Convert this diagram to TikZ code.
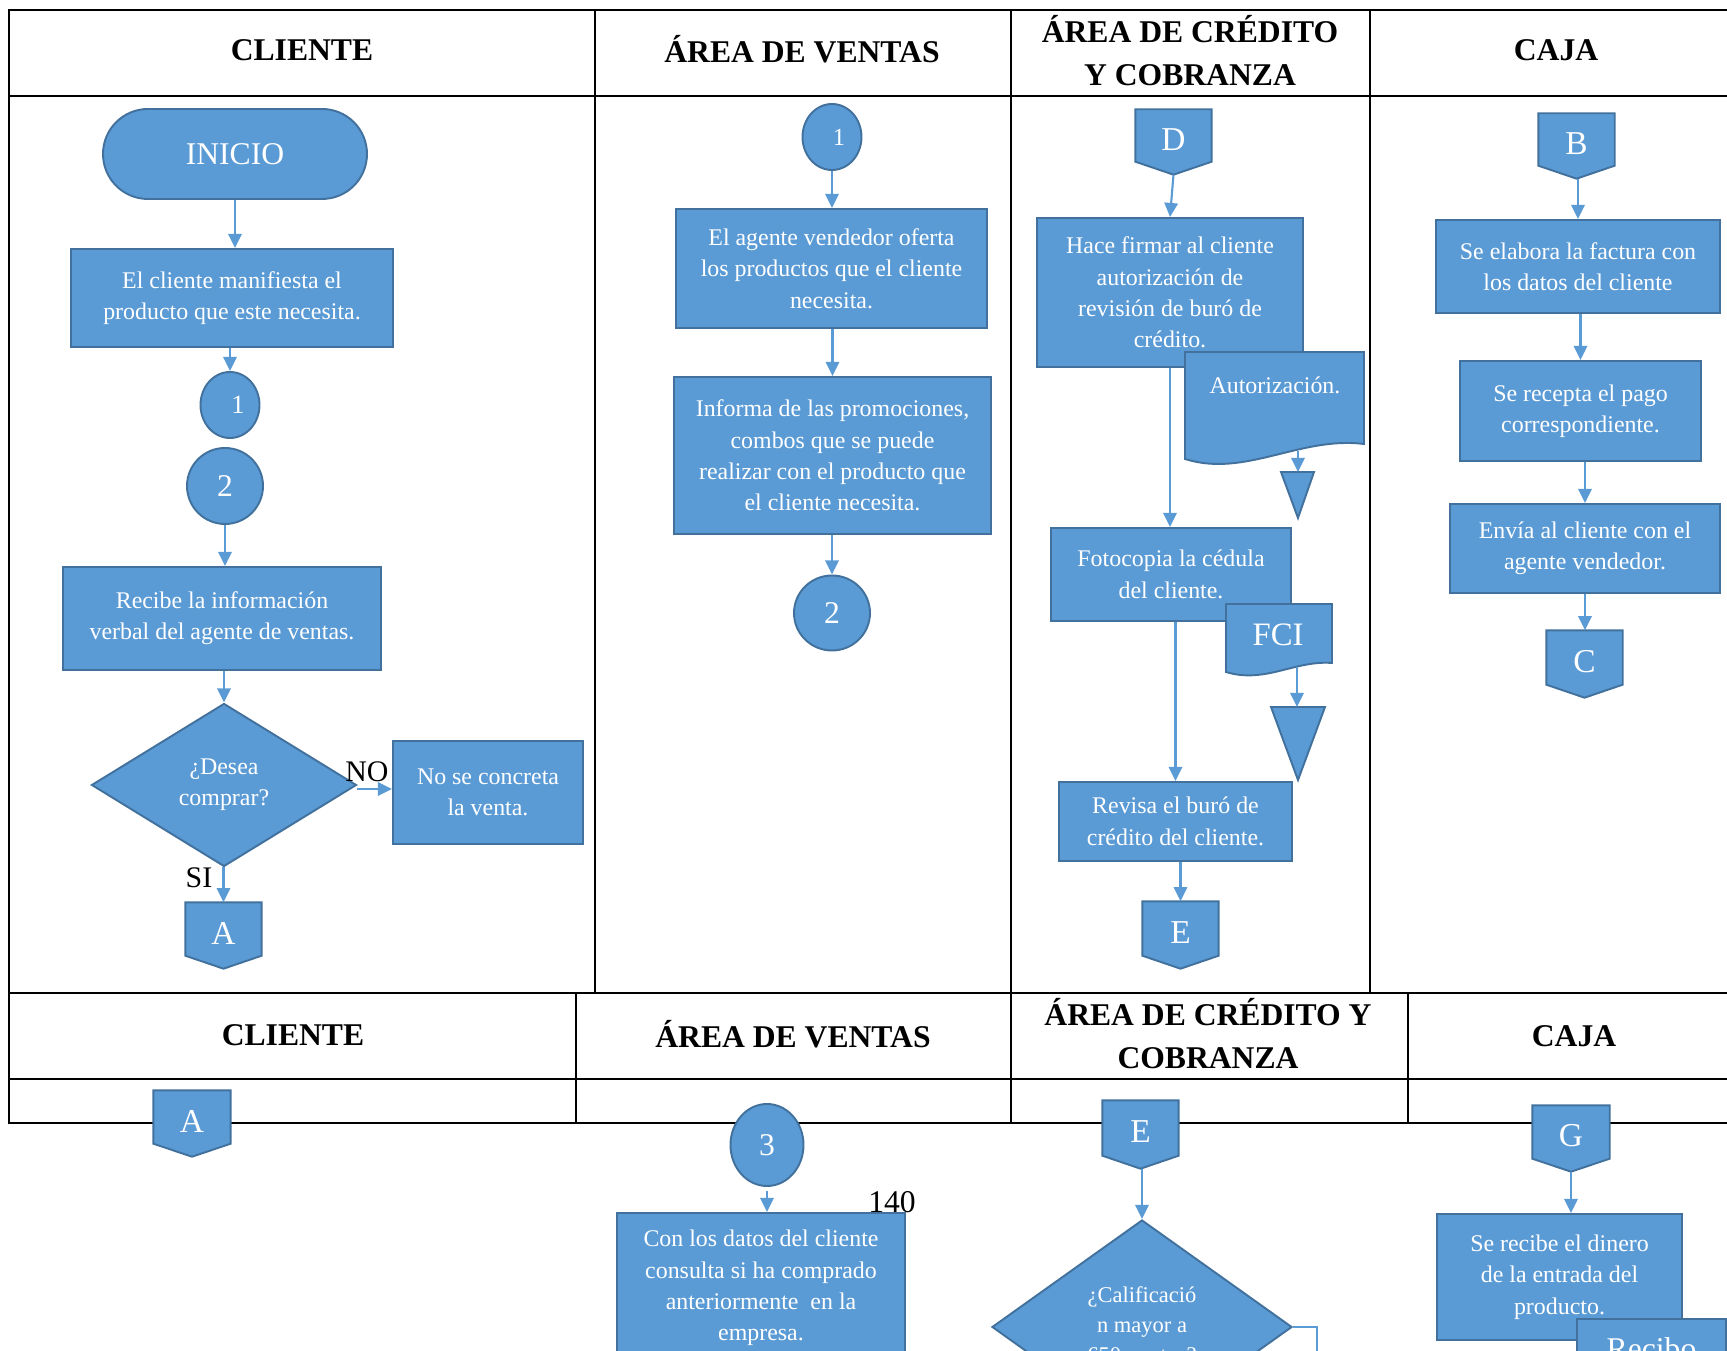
\documentclass[tikz,border=0pt]{standalone}
\usepackage{fontspec}
\setmainfont{Liberation Serif}
\usetikzlibrary{shapes.geometric,arrows.meta,calc}

\definecolor{flowfill}{HTML}{5B9BD5}
\definecolor{flowline}{HTML}{41719C}

\newcommand{\boxfont}{\fontsize{6.8}{8.9}\selectfont}

\tikzset{
  tableline/.style={line width=0.6pt, draw=black, line cap=rect},
  head/.style={font=\fontsize{9}{12.2}\selectfont\bfseries, align=center, inner sep=0pt},
  shapebase/.style={fill=flowfill, draw=flowline, line width=0.55pt},
  procbox/.style={shapebase, rectangle, text=white, align=center, inner sep=0pt, font=\boxfont},
  ell/.style={shapebase, ellipse, text=white, inner sep=0pt},
  whitetext/.style={text=white, inner sep=0pt, align=center},
  blacklabel/.style={text=black, inner sep=0pt, font=\fontsize{8.5}{10}\selectfont},
  flow/.style={draw=flowfill, line width=0.6pt, -{Triangle[width=3.8pt,length=4pt]}},
  thinflow/.style={draw=flowfill, line width=0.45pt},
}

% off-page connector: name, x, y, width (mm), height (mm), letter
\newcommand{\offpage}[6]{%
  \node[minimum width=#4mm, minimum height=#5mm, inner sep=0pt] (#1) at (#2,#3) {};
  \draw[shapebase] (#1.north west) -- (#1.north east) -- ([yshift=1.3mm]#1.south east)
    -- (#1.south) -- ([yshift=1.3mm]#1.south west) -- cycle;
  \node[whitetext, font=\fontsize{9.5}{11}\selectfont] (#1-l) at ([yshift=0.25mm]#1.center) {#6};
}

\begin{document}
\begin{tikzpicture}[x=0.1mm, y=-0.1mm]
\useasboundingbox (0,0) rectangle (1727,1351);

% ---------- swimlane tables ----------
\draw[tableline] (9,10) -- (1760,10);
\draw[tableline] (9,96) -- (1760,96);
\draw[tableline] (9,993) -- (1760,993);
\draw[tableline] (9,1079) -- (1760,1079);
\draw[tableline] (9,1123) -- (1760,1123);
\draw[tableline] (9,10) -- (9,1123);
\foreach \x in {595,1011,1370} \draw[tableline] (\x,10) -- (\x,993);
\foreach \x in {576,1011,1408} \draw[tableline] (\x,993) -- (\x,1123);

\node[head] (h1) at (302,50) {CLIENTE};
\node[head] (h2) at (802,49) {ÁREA DE VENTAS};
\node[head] (h3) at (1190,50.5) {ÁREA DE CRÉDITO\\Y COBRANZA};
\node[head] (h4) at (1556,50) {CAJA};

\node[head] (h5) at (293,1035) {CLIENTE};
\node[head] (h6) at (793,1034) {ÁREA DE VENTAS};
\node[head] (h7) at (1208,1034) {ÁREA DE CRÉDITO Y\\COBRANZA};
\node[head] (h8) at (1574,1036) {CAJA};

% ---------- cliente ----------
\node[shapebase, rectangle, rounded corners=4.5mm, minimum width=26.4mm, minimum height=9mm,
      text=white, inner sep=0pt, font=\fontsize{9}{11}\selectfont] (inicio) at (235,154) {INICIO};
\node[procbox, minimum width=32.2mm, minimum height=9.8mm] (box1) at (232,298)
  {El cliente manifiesta el\\producto que este necesita.};
\node[ell, minimum width=5.9mm, minimum height=6.6mm, font=\fontsize{7.5}{9}\selectfont] (c1) at (230,405) {\hspace*{4.5pt}1};
\node[ell, minimum width=7.6mm, minimum height=7.6mm, font=\fontsize{9}{11}\selectfont] (c2) at (225,486) {2};
\node[procbox, minimum width=31.8mm, minimum height=10.3mm] (box2) at (222,618.5)
  {Recibe la información\\verbal del agente de ventas.};
\node[shapebase, diamond, aspect=1.626, minimum width=26.5mm, minimum height=16.3mm, inner sep=0pt,
      text=white, align=center, font=\boxfont] (desea) at (224,785) {¿Desea\\comprar?};
\node[procbox, minimum width=19mm, minimum height=10.3mm] (nobox) at (488,792.5) {No se concreta\\la venta.};
\offpage{offA}{223.5}{935.5}{7.5}{6.5}{A}

\draw[flow] (inicio.south) -- (inicio.south |- box1.north);
\draw[flow] (c1.north |- box1.south) -- (c1.north);
\draw[flow] (c2.south) -- (c2.south |- box2.north);
\draw[flow] (desea.north |- box2.south) -- (desea.north);
\draw[flow] ([yshift=-0.4mm]desea.east) -- ([yshift=-0.4mm]desea.east -| nobox.west);
\draw[flow] (offA.north |- desea.south) -- (offA.north);
\node[blacklabel] (no) at (367,772) {NO};
\node[blacklabel] (si) at (199,878) {SI};

% ---------- área de ventas ----------
\node[ell, minimum width=5.9mm, minimum height=6.6mm, font=\fontsize{7}{9}\selectfont] (v1) at (832,137) {\hspace*{4pt}1};
\node[procbox, minimum width=31.1mm, minimum height=11.9mm] (vbox1) at (831.5,268.5)
  {El agente vendedor oferta\\los productos que el cliente\\necesita.};
\node[procbox, minimum width=31.7mm, minimum height=15.7mm] (vbox2) at (832.5,455.5)
  {Informa de las promociones,\\combos que se puede\\realizar con el producto que\\el cliente necesita.};
\node[ell, minimum width=7.6mm, minimum height=7.5mm, font=\fontsize{9}{11}\selectfont] (v2) at (832,613) {2};
\draw[flow] (v1.south) -- (v1.south |- vbox1.north);
\draw[flow] (vbox2.north |- vbox1.south) -- (vbox2.north);
\draw[flow] (v2.north |- vbox2.south) -- (v2.north);

% ---------- área de crédito y cobranza ----------
\offpage{offD}{1173.5}{142}{7.5}{6.4}{D}
\node[procbox, minimum width=26.6mm, minimum height=14.9mm] (hbox) at (1170,292.5)
  {Hace firmar al cliente\\autorización de\\revisión de buró de\\crédito.};
\draw[shapebase] (1185,352) -- (1364,352) -- (1364,444)
  .. controls (1300,436) and (1245,478) .. (1185,459) -- cycle;
\node[whitetext, font=\boxfont] (aut) at (1275,385) {Autorización.};
\coordinate (autout) at (1298,451);
\coordinate (tri1) at (1298,472);
\draw[shapebase] (1281,472) -- (1314,472) -- (1298,518) -- cycle;

\node[procbox, minimum width=24mm, minimum height=9.3mm] (foto) at (1171,574.5)
  {Fotocopia la cédula\\del cliente.};
\draw[shapebase] (1226,604) -- (1332,604) -- (1332,663)
  .. controls (1295,660) and (1265,684) .. (1226,672) -- cycle;
\node[whitetext, font=\fontsize{9.3}{11}\selectfont] (fci) at (1278,635) {FCI};
\coordinate (fciout) at (1297,667);
\coordinate (tri2) at (1297,707);
\draw[shapebase] (1271,707) -- (1325,707) -- (1298,780) -- cycle;

\node[procbox, minimum width=23.3mm, minimum height=7.9mm] (revisa) at (1175.5,821.5)
  {Revisa el buró de\\crédito del cliente.};
\offpage{offE}{1180.5}{935}{7.5}{6.6}{E}

\draw[flow] (offD.south) -- (hbox.north);
\draw[flow] (hbox.south) -- (hbox.south |- foto.north);
\draw[flow] (autout) -- (tri1);
\draw[flow] (fciout) -- (tri2);
\draw[flow] (revisa.north |- foto.south) -- (revisa.north);
\draw[flow] (offE.north |- revisa.south) -- (offE.north);

% ---------- caja ----------
\offpage{offB}{1576.5}{146}{7.5}{6.4}{B}
\node[procbox, minimum width=28.4mm, minimum height=9.3mm] (fact) at (1578,266.5)
  {Se elabora la factura con\\los datos del cliente};
\node[procbox, minimum width=24.1mm, minimum height=10mm] (recepta) at (1580.5,411)
  {Se recepta el pago\\correspondiente.};
\node[procbox, minimum width=27mm, minimum height=8.9mm] (envia) at (1585,548.5)
  {Envía al cliente con el\\agente vendedor.};
\offpage{offC}{1584.5}{664}{7.5}{6.6}{C}
\draw[flow] (fact.north |- offB.south) -- (fact.north);
\draw[flow] (recepta.north |- fact.south) -- (recepta.north);
\draw[flow] (envia.north |- recepta.south) -- (envia.north);
\draw[flow] (envia.south) -- (envia.south |- offC.north);

% ---------- second sheet ----------
\offpage{offA2}{192}{1123.5}{7.6}{6.5}{A}

\node[ell, minimum width=7.3mm, minimum height=8.2mm, font=\fontsize{9}{11}\selectfont] (c3) at (767,1145) {3};
\node[procbox, minimum width=28.8mm, minimum height=15mm] (con) at (761,1288)
  {Con los datos del cliente\\consulta si ha comprado\\anteriormente~ en la\\empresa.};
\draw[flow, shorten <=0.4mm] (c3.south) -- (c3.south |- con.north);
\node[blacklabel, font=\fontsize{9}{11}\selectfont] (pg) at (892,1202) {140};

\offpage{offE2}{1140.5}{1134.5}{7.5}{6.7}{E}
\node[shapebase, diamond, aspect=1.4, minimum width=30mm, minimum height=21.4mm, inner sep=0pt,
      text=white, align=center, font=\fontsize{6.4}{8.5}\selectfont] (calif) at (1142,1327)
  {¿Calificació\\n mayor a\\650 puntos?};
\draw[flow] (calif.north |- offE2.south) -- (calif.north);
\coordinate (califdown) at (1317,1420);
\draw[thinflow] (calif.east) -| (califdown);

\offpage{offG}{1571}{1138.5}{7.6}{6.5}{G}
\node[procbox, minimum width=24.5mm, minimum height=12.6mm] (recibe) at (1559.5,1277)
  {Se recibe el dinero\\de la entrada del\\producto.};
\draw[flow] (offG.south) -- (offG.south |- recibe.north);
\node[procbox, minimum width=14.9mm, minimum height=6mm, font=\fontsize{9}{11}\selectfont] (recibo) at (1651.5,1349) {Recibo};

\end{tikzpicture}
\end{document}
